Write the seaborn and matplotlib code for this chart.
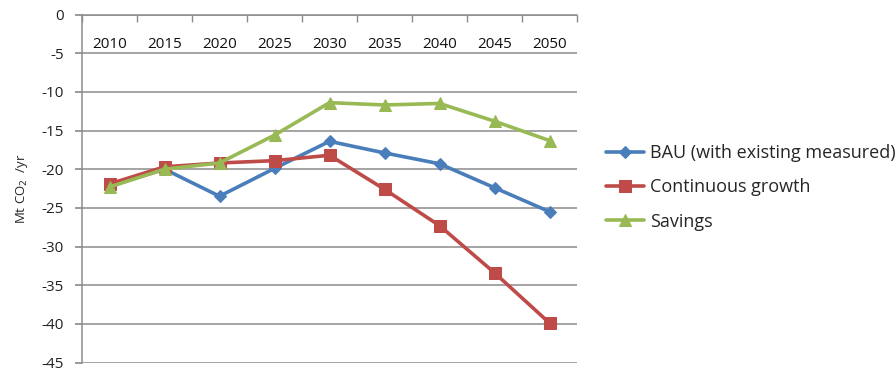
import numpy as np
import pandas as pd
import matplotlib
matplotlib.use("Agg")
import matplotlib.pyplot as plt
import seaborn as sns

years = ["2010", "2015", "2020", "2025", "2030", "2035", "2040", "2045", "2050"]
bau = [-22.2, -20.0, -23.5, -19.9, -16.4, -17.9, -19.3, -22.4, -25.5]
growth = [-21.9, -19.7, -19.2, -18.9, -18.2, -22.6, -27.3, -33.4, -39.9]
savings = [-22.3, -20.0, -19.2, -15.6, -11.4, -11.7, -11.5, -13.8, -16.3]
series_names = ["BAU (with existing measured)", "Continuous growth", "Savings"]
yticks = [0, -5, -10, -15, -20, -25, -30, -35, -40, -45]

sns.set_theme(style="white")
plt.rcParams['font.family'] = ['Open Sans', 'DejaVu Sans']

rows = []
for name, vals in zip(series_names, [bau, growth, savings]):
    for i, (y, v) in enumerate(zip(years, vals)):
        rows.append({"pos": i, "year": y, "value": v, "series": name})
df = pd.DataFrame(rows)

fig = plt.figure(figsize=(8.96, 3.71), dpi=100)
ax = fig.add_axes([82/896, 1-362.5/371, 495/896, 348/371])

palette = {series_names[0]: "#4A7EBB", series_names[1]: "#BE4B48", series_names[2]: "#98B954"}
markers = {series_names[0]: "D", series_names[1]: "s", series_names[2]: "^"}
sizes_m = {series_names[0]: 6, series_names[1]: 8, series_names[2]: 8}

for name in series_names:
    sub = df[df.series == name]
    sns.lineplot(data=sub, x="pos", y="value", ax=ax, color=palette[name],
                 marker=markers[name], markersize=sizes_m[name], linewidth=2.6,
                 markeredgecolor=palette[name], label=name, zorder=3)

ax.set_xlim(-0.5, len(years) - 0.5)
ax.set_ylim(-45, 0)
ax.set_yticks(yticks)
ax.set_yticklabels([str(t) for t in yticks], fontsize=11, color="#222222")
ax.yaxis.grid(True, color="#8c8c8c", linewidth=1.1)
ax.set_axisbelow(True)

ax.xaxis.tick_top()
ax.set_xticks(range(len(years)))
ax.set_xticklabels(years, fontsize=11, color="#111111")
ax.tick_params(axis="x", which="major", length=0, pad=-27, labeltop=True, labelbottom=False)
ax.set_xticks(np.arange(-0.5, len(years)), minor=True)
ax.tick_params(axis="x", which="minor", length=5, direction="in", color="#8c8c8c", top=True, bottom=False)
ax.tick_params(axis="y", length=5, direction="out", color="#8c8c8c", left=True, pad=8)

for s in ["right", "bottom"]:
    ax.spines[s].set_visible(False)
for s in ["left", "top"]:
    ax.spines[s].set_color("#8c8c8c")
    ax.spines[s].set_linewidth(1.1)

ax.set_xlabel("")
ax.set_ylabel("Mt CO$_2$  /yr", fontsize=9.5, labelpad=8)

leg = ax.legend(loc="upper left", bbox_to_anchor=(590/896, 1-128/371),
                bbox_transform=fig.transFigure, frameon=False, fontsize=13,
                labelspacing=0.9, handlelength=2.1, handletextpad=0.35)

fig.savefig("out.png", dpi=100)
